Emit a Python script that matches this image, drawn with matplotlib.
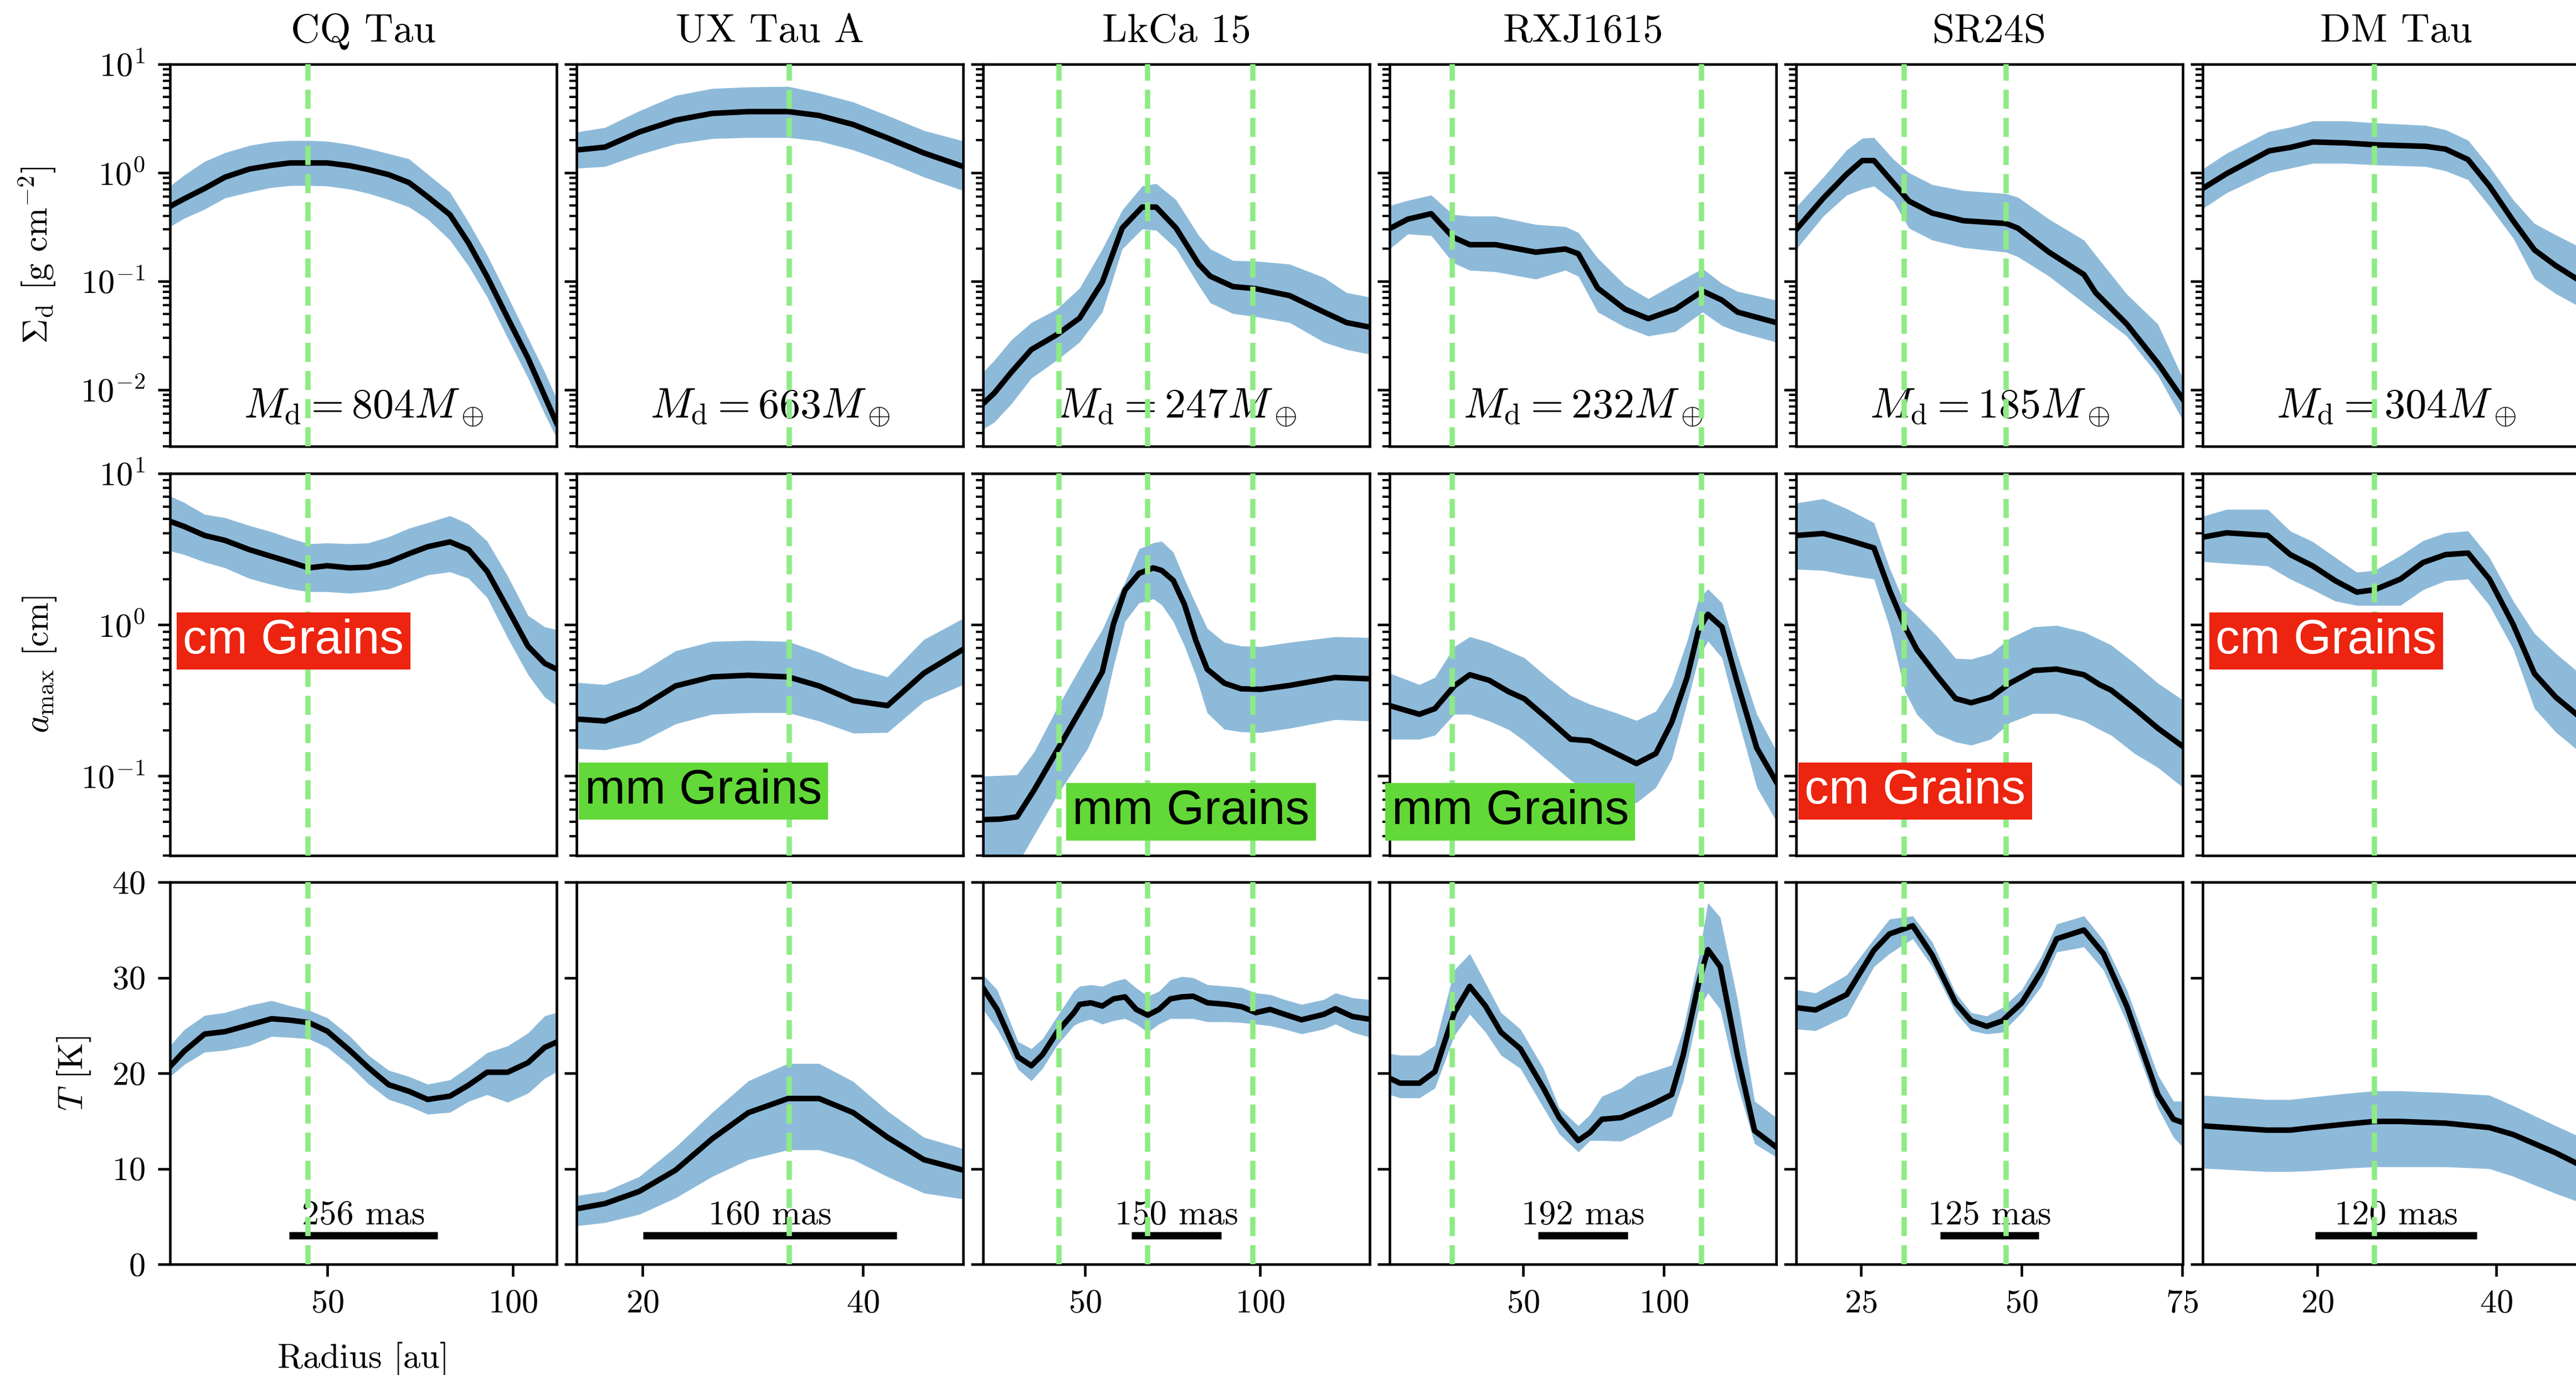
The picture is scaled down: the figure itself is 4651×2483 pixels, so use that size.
import matplotlib
matplotlib.use('Agg')
import matplotlib.pyplot as plt
from matplotlib.ticker import MultipleLocator

# %% Fonts: Computer Modern look
plt.rcParams['font.family'] = 'cmr10'
plt.rcParams['mathtext.fontset'] = 'cm'
plt.rcParams['axes.formatter.use_mathtext'] = True

# %% Disk-level info
DISKS = ['CQ Tau', 'UX Tau A', 'LkCa 15', 'RXJ1615', 'SR24S', 'DM Tau']
MDISK = [804, 663, 247, 232, 185, 304]
SCALE_MAS = ['256 mas', '160 mas', '150 mas', '192 mas', '125 mas', '120 mas']
SCALE_AU = [39.8, 23.0, 25.6, 31.8, 15.3, 18.1]
RINGS = [[44.8], [33.3], [42.5, 67.9, 98.0], [24.7, 113.5], [31.8, 47.6], [26.35]]
XLIM = [(7.7, 111.7), (14.03, 49.06), (20.8, 131.4), (2.5, 140.0), (14.96, 75.1), (7.18, 50.4)]
XSTEP = [50, 20, 50, 50, 25, 20]
GRAIN_TEXT = ['cm Grains', 'mm Grains', 'mm Grains', 'mm Grains', 'cm Grains', 'cm Grains']

# %% CQ Tau
CQ_R = [7.7, 11.5, 17, 22.5, 29, 35, 40, 45, 50, 56, 61, 66.5, 72, 77, 83, 88, 93, 98.5, 104, 108.5, 111.7]
CQ_SIG = [0.489, 0.575, 0.716, 0.91, 1.08, 1.17, 1.23, 1.23, 1.23, 1.16, 1.07, 0.96, 0.81, 0.60, 0.41,
          0.225, 0.11, 0.046, 0.0195, 0.0087, 0.0049]
CQ_SIG_LO = [0.318, 0.38, 0.46, 0.585, 0.662, 0.73, 0.76, 0.762, 0.753, 0.706, 0.646, 0.565, 0.482, 0.373,
             0.239, 0.138, 0.0713, 0.030, 0.0128, 0.00594, 0.00357]
CQ_SIG_HI = [0.753, 0.95, 1.27, 1.53, 1.78, 1.93, 1.98, 1.98, 1.95, 1.82, 1.67, 1.50, 1.34, 0.97, 0.66,
             0.35, 0.174, 0.073, 0.030, 0.0145, 0.0082]
CQ_AMAX = [4.81, 4.45, 3.88, 3.60, 3.13, 2.82, 2.59, 2.37, 2.45, 2.37, 2.40, 2.59, 2.94, 3.27, 3.52, 3.13,
           2.25, 1.28, 0.72, 0.555, 0.508]
CQ_AMAX_LO = [3.07, 2.9, 2.59, 2.37, 2.02, 1.84, 1.72, 1.65, 1.65, 1.61, 1.65, 1.72, 1.92, 2.13, 2.23, 2.02,
              1.51, 0.82, 0.467, 0.332, 0.292]
CQ_AMAX_HI = [7.06, 6.4, 5.35, 5.08, 4.51, 4.10, 3.72, 3.42, 3.46, 3.42, 3.46, 3.80, 4.33, 4.71, 5.24, 4.61,
              3.56, 2.1, 1.15, 0.966, 0.927]
CQ_T = [20.7, 22.3, 24.1, 24.35, 25.05, 25.7, 25.55, 25.3, 24.4, 22.4, 20.6, 18.8, 18.1, 17.25, 17.6, 18.75,
        20.1, 20.1, 21.1, 22.7, 23.25]
CQ_T_LO = [19.65, 20.9, 22.2, 22.4, 22.9, 23.85, 23.75, 23.6, 22.7, 20.8, 18.9, 17.25, 16.55, 15.7, 15.9,
           17.05, 17.75, 16.95, 17.9, 19.45, 20.15]
CQ_T_HI = [22.9, 24.55, 26.05, 26.35, 27.1, 27.6, 27.05, 26.6, 25.8, 23.9, 21.9, 20.3, 19.65, 18.85, 19.3,
           20.65, 22.15, 22.85, 24.2, 26.0, 26.35]

# %% UX Tau A
UX_R = [14.03, 16.6, 19.7, 23.0, 26.3, 29.6, 33.2, 36.0, 39.1, 42.2, 45.5, 49.06]
UX_SIG = [1.62, 1.72, 2.37, 3.05, 3.52, 3.66, 3.66, 3.37, 2.78, 2.09, 1.52, 1.14]
UX_SIG_LO = [1.10, 1.14, 1.47, 1.84, 2.06, 2.11, 2.11, 1.96, 1.62, 1.25, 0.912, 0.684]
UX_SIG_HI = [2.37, 2.61, 3.71, 5.15, 5.97, 6.17, 6.24, 5.43, 4.48, 3.37, 2.45, 1.96]
UX_AMAX = [0.238, 0.231, 0.280, 0.394, 0.452, 0.463, 0.452, 0.394, 0.315, 0.292, 0.478, 0.687]
UX_AMAX_LO = [0.152, 0.149, 0.166, 0.221, 0.256, 0.262, 0.262, 0.231, 0.192, 0.194, 0.311, 0.402]
UX_AMAX_HI = [0.415, 0.402, 0.478, 0.671, 0.774, 0.787, 0.774, 0.658, 0.520, 0.452, 0.798, 1.10]
UX_T = [5.80, 6.35, 7.62, 9.85, 13.12, 15.87, 17.35, 17.35, 15.87, 13.29, 10.95, 9.85]
UX_T_LO = [4.02, 4.36, 5.22, 6.94, 9.17, 10.95, 11.98, 11.98, 10.95, 9.17, 7.45, 6.83]
UX_T_HI = [7.18, 7.62, 9.17, 12.26, 15.87, 19.20, 21.02, 21.02, 19.13, 16.04, 13.29, 12.09]

# %% LkCa 15
LK_R1 = [20.8, 24.0, 28.9, 34.6, 41.9, 48.4, 54.9, 60.6, 66.3, 70.3, 76.0, 82.5, 85.8, 92.3, 98.8, 108.5,
         118.3, 124.8, 131.4]
LK_SIG = [0.00743, 0.00929, 0.0145, 0.0234, 0.0321, 0.0456, 0.098, 0.309, 0.482, 0.482, 0.309, 0.1435,
          0.111, 0.0891, 0.0853, 0.0736, 0.0519, 0.0415, 0.0377]
LK_SIG_LO = [0.00433, 0.00501, 0.00741, 0.01276, 0.0187, 0.0274, 0.0519, 0.198, 0.302, 0.295, 0.200, 0.0912,
             0.0631, 0.0502, 0.0471, 0.0415, 0.0274, 0.0234, 0.0212]
LK_SIG_HI = [0.0145, 0.0186, 0.0288, 0.0415, 0.0552, 0.0863, 0.198, 0.452, 0.753, 0.794, 0.562, 0.263,
             0.198, 0.155, 0.153, 0.1435, 0.108, 0.0783, 0.0713]
LK_R2 = [20.8, 25.7, 30.5, 35.4, 41.9, 50.8, 54.9, 58.1, 61.4, 65.4, 69.5, 71.9, 75.2, 78.4, 81.7, 84.9,
         89.8, 94.6, 100.3, 108.5, 121.5, 131.4]
LK_AMAX = [0.0516, 0.0520, 0.0538, 0.0809, 0.147, 0.332, 0.488, 1.01, 1.69, 2.18, 2.37, 2.28, 1.96, 1.36,
           0.782, 0.508, 0.411, 0.377, 0.374, 0.397, 0.448, 0.439]
LK_AMAX_LO = [0.0106, 0.0166, 0.026, 0.0407, 0.0741, 0.153, 0.251, 0.531, 1.05, 1.39, 1.48, 1.35, 1.05,
              0.724, 0.457, 0.262, 0.204, 0.196, 0.194, 0.207, 0.236, 0.231]
LK_AMAX_HI = [0.100, 0.101, 0.102, 0.1445, 0.280, 0.644, 0.927, 1.36, 1.91, 3.16, 3.47, 3.55, 3.01, 2.00,
              1.36, 0.946, 0.764, 0.723, 0.716, 0.764, 0.832, 0.822]
LK_R3 = [20.8, 24.8, 27.3, 30.8, 34.6, 37.8, 41.9, 46.8, 48.4, 51.6, 54.9, 58.1, 61.4, 64.6, 67.9, 71.1,
         74.4, 77.6, 80.9, 85.0, 90.7, 94.8, 98.8, 102.9, 107.0, 111.9, 118.3, 121.6, 126.5, 131.4]
LK_T = [28.92, 26.68, 24.62, 21.70, 20.78, 21.94, 24.28, 26.34, 27.20, 27.37, 27.03, 27.78, 27.99, 26.68,
        26.07, 26.68, 27.78, 27.99, 28.06, 27.37, 27.20, 26.96, 26.34, 26.68, 26.17, 25.59, 26.17, 26.75,
        25.93, 25.65]
LK_T_LO = [26.68, 24.62, 23.0, 20.4, 19.2, 20.5, 22.9, 25.0, 25.3, 25.65, 25.14, 25.5, 25.72, 25.14, 24.28,
           25.14, 25.72, 25.72, 25.72, 25.38, 25.38, 25.3, 25.14, 24.97, 24.62, 24.11, 24.62, 25.14, 24.28,
           23.77]
LK_T_HI = [30.3, 28.74, 26.5, 23.3, 22.56, 23.6, 25.9, 28.6, 29.1, 29.26, 29.09, 29.6, 29.9, 28.92, 28.06,
           28.57, 29.77, 30.12, 30.0, 29.26, 29.1, 28.95, 28.40, 28.23, 27.71, 27.20, 27.71, 28.40, 27.89,
           27.71]

# %% RXJ1615
RX_R1 = [2.5, 8.98, 17.3, 25.0, 31.0, 40.2, 54.5, 65.0, 69.6, 76.5, 86.2, 94.5, 104.1, 113.8, 120.7,
         126.2, 140.0]
RX_SIG = [0.305, 0.373, 0.419, 0.255, 0.217, 0.217, 0.185, 0.198, 0.179, 0.0863, 0.0552, 0.0451, 0.0552,
          0.0811, 0.0668, 0.0519, 0.0415]
RX_SIG_LO = [0.198, 0.272, 0.263, 0.148, 0.126, 0.122, 0.1045, 0.126, 0.111, 0.0519, 0.0377, 0.0312,
             0.0343, 0.0519, 0.0389, 0.0343, 0.0274]
RX_SIG_HI = [0.498, 0.555, 0.622, 0.411, 0.398, 0.398, 0.333, 0.318, 0.281, 0.163, 0.0920, 0.0690, 0.0951,
             0.1306, 0.0951, 0.0805, 0.0668]
RX_R2 = [2.5, 13.1, 18.6, 25.5, 31.0, 37.9, 44.8, 50.4, 58.6, 66.9, 73.8, 82.1, 90.3, 97.2, 102.8, 108.3,
         112.4, 115.7, 120.7, 126.2, 133.1, 140.0]
RX_AMAX = [0.292, 0.256, 0.279, 0.394, 0.467, 0.429, 0.361, 0.324, 0.240, 0.175, 0.171, 0.144, 0.121,
           0.141, 0.226, 0.448, 0.927, 1.17, 0.966, 0.411, 0.153, 0.0918]
RX_AMAX_LO = [0.175, 0.175, 0.186, 0.256, 0.256, 0.231, 0.203, 0.171, 0.127, 0.094, 0.0774, 0.0653,
              0.0667, 0.0843, 0.129, 0.305, 0.604, 0.780, 0.604, 0.246, 0.0843, 0.0505]
RX_AMAX_HI = [0.478, 0.402, 0.448, 0.716, 0.832, 0.764, 0.671, 0.604, 0.448, 0.339, 0.298, 0.265, 0.233,
              0.268, 0.394, 0.780, 1.48, 1.72, 1.39, 0.630, 0.256, 0.147]
RX_R3 = [2.5, 6.2, 13.1, 18.6, 25.5, 31.0, 36.6, 42.1, 49.0, 57.2, 62.8, 69.6, 73.8, 78.0, 84.8, 90.3, 95.8,
         102.8, 106.9, 112.4, 115.7, 120.1, 126.2, 132.3, 140.0]
RX_T = [19.47, 18.96, 18.96, 20.16, 26.34, 29.09, 27.03, 24.28, 22.56, 18.44, 15.35, 12.95, 13.81, 15.18,
        15.35, 16.04, 16.73, 17.76, 21.88, 29.43, 32.93, 31.15, 21.88, 13.98, 12.26]
RX_T_LO = [17.76, 17.41, 17.41, 18.44, 23.94, 26.17, 24.28, 21.88, 20.50, 16.38, 13.64, 11.75, 12.95, 12.95,
           12.88, 13.64, 14.49, 15.52, 19.13, 26.68, 28.40, 26.68, 18.79, 12.61, 11.23]
RX_T_HI = [22.05, 21.88, 21.88, 22.91, 30.80, 32.52, 29.43, 26.34, 24.62, 20.50, 16.38, 14.49, 15.69, 17.58,
           18.44, 19.64, 20.16, 20.85, 24.62, 32.18, 37.84, 36.30, 27.71, 17.07, 15.35]

# %% SR24S
SR_R1 = [14.96, 19.19, 22.82, 25.24, 27.06, 30.09, 32.5, 36.13, 40.97, 47.63, 49.45, 54.29, 59.73, 61.54,
         66.39, 71.22, 75.1]
SR_SIG = [0.299, 0.583, 0.970, 1.294, 1.294, 0.802, 0.547, 0.424, 0.361, 0.340, 0.308, 0.185, 0.115,
          0.0783, 0.0402, 0.01754, 0.00817]
SR_SIG_LO = [0.197, 0.398, 0.621, 0.706, 0.752, 0.547, 0.308, 0.239, 0.204, 0.185, 0.168, 0.111, 0.0627,
             0.0518, 0.0311, 0.01358, 0.00522]
SR_SIG_HI = [0.482, 0.910, 1.62, 2.08, 2.11, 1.33, 1.00, 0.776, 0.684, 0.641, 0.594, 0.373, 0.239, 0.174,
             0.0759, 0.0402, 0.01276]
SR_R2 = [14.96, 19.19, 22.82, 27.06, 29.48, 31.9, 33.72, 36.74, 39.77, 42.19, 45.22, 48.24, 51.87, 55.49,
         59.73, 62.15, 63.97, 67.6, 71.22, 75.1]
SR_AMAX = [3.88, 4.00, 3.64, 3.21, 1.69, 0.966, 0.687, 0.467, 0.325, 0.305, 0.332, 0.411, 0.498, 0.509,
           0.467, 0.402, 0.369, 0.279, 0.207, 0.157]
SR_AMAX_LO = [2.32, 2.28, 2.13, 2.00, 0.966, 0.361, 0.256, 0.190, 0.168, 0.160, 0.175, 0.226, 0.259, 0.259,
              0.231, 0.203, 0.186, 0.141, 0.114, 0.0843]
SR_AMAX_HI = [6.35, 6.78, 5.83, 4.71, 2.37, 1.36, 1.15, 0.851, 0.598, 0.592, 0.644, 0.815, 0.966, 0.988,
              0.895, 0.798, 0.733, 0.555, 0.411, 0.318]
SR_R3 = [14.96, 17.98, 22.82, 27.06, 29.48, 33.1, 36.13, 39.77, 42.19, 44.6, 47.03, 50.05, 53.08, 55.49,
         59.73, 62.76, 66.39, 71.22, 73.65, 75.1]
SR_T = [26.86, 26.62, 28.23, 32.87, 34.58, 35.44, 32.35, 27.37, 25.48, 24.90, 25.48, 27.37, 30.63, 34.07,
        34.99, 32.52, 27.03, 17.76, 15.18, 14.84]
SR_T_LO = [24.62, 24.45, 25.99, 31.15, 32.52, 34.07, 31.15, 26.34, 24.45, 24.11, 24.28, 26.34, 29.09, 32.69,
           33.21, 30.80, 25.31, 16.38, 13.29, 12.26]
SR_T_HI = [28.74, 28.40, 30.29, 34.07, 36.13, 36.47, 33.72, 28.40, 26.34, 25.99, 26.86, 28.74, 32.18, 35.61,
           36.47, 33.90, 28.74, 19.82, 17.07, 17.07]

# %% DM Tau (panel runs past the right edge of the figure)
DM_R1 = [7.18, 9.85, 14.6, 16.97, 19.49, 23.2, 26.4, 32.1, 34.33, 36.85, 39.23, 41.9, 44.27, 46.65, 49.0]
DM_SIG = [0.715, 0.980, 1.59, 1.71, 1.92, 1.88, 1.81, 1.75, 1.65, 1.32, 0.755, 0.359, 0.194, 0.139, 0.105]
DM_SIG_LO = [0.466, 0.652, 1.00, 1.10, 1.22, 1.22, 1.18, 1.14, 1.04, 0.861, 0.492, 0.248, 0.105, 0.0766,
             0.0601]
DM_SIG_HI = [1.08, 1.51, 2.40, 2.63, 3.00, 3.00, 2.88, 2.73, 2.49, 1.99, 1.14, 0.561, 0.340, 0.267, 0.213]
DM_R2 = [7.18, 9.85, 14.45, 16.97, 19.49, 22.0, 24.4, 26.4, 29.29, 31.81, 34.33, 36.85, 39.23, 41.9, 44.27,
         46.65, 49.0]
DM_AMAX = [3.78, 4.04, 3.88, 2.90, 2.44, 1.95, 1.64, 1.70, 2.00, 2.57, 2.90, 2.97, 2.00, 1.00, 0.475, 0.332,
           0.255]
DM_AMAX_LO = [2.61, 2.54, 2.44, 2.00, 1.70, 1.43, 1.34, 1.34, 1.34, 1.70, 1.95, 2.00, 1.34, 0.690, 0.280,
              0.195, 0.150]
DM_AMAX_HI = [5.19, 5.77, 5.77, 4.15, 3.53, 2.78, 2.22, 2.28, 2.86, 3.58, 4.04, 4.15, 2.78, 1.43, 0.875,
              0.646, 0.494]
DM_R3 = [7.18, 14.3, 16.97, 19.49, 23.2, 26.4, 29.29, 34.33, 39.23, 41.9, 46.65, 49.0]
DM_T = [14.49, 14.04, 14.04, 14.31, 14.67, 14.95, 14.95, 14.77, 14.31, 13.58, 11.66, 10.56]
DM_T_LO = [10.05, 9.7, 9.7, 9.8, 10.05, 10.2, 10.2, 10.2, 10.0, 9.2, 7.4, 6.6]
DM_T_HI = [17.69, 17.24, 17.24, 17.51, 17.88, 18.15, 18.15, 17.96, 17.69, 16.59, 14.49, 13.49]

# %% Gather per row
SIG_ROWS = [(CQ_R, CQ_SIG, CQ_SIG_LO, CQ_SIG_HI), (UX_R, UX_SIG, UX_SIG_LO, UX_SIG_HI),
            (LK_R1, LK_SIG, LK_SIG_LO, LK_SIG_HI), (RX_R1, RX_SIG, RX_SIG_LO, RX_SIG_HI),
            (SR_R1, SR_SIG, SR_SIG_LO, SR_SIG_HI), (DM_R1, DM_SIG, DM_SIG_LO, DM_SIG_HI)]
AMAX_ROWS = [(CQ_R, CQ_AMAX, CQ_AMAX_LO, CQ_AMAX_HI), (UX_R, UX_AMAX, UX_AMAX_LO, UX_AMAX_HI),
             (LK_R2, LK_AMAX, LK_AMAX_LO, LK_AMAX_HI), (RX_R2, RX_AMAX, RX_AMAX_LO, RX_AMAX_HI),
             (SR_R2, SR_AMAX, SR_AMAX_LO, SR_AMAX_HI), (DM_R2, DM_AMAX, DM_AMAX_LO, DM_AMAX_HI)]
T_ROWS = [(CQ_R, CQ_T, CQ_T_LO, CQ_T_HI), (UX_R, UX_T, UX_T_LO, UX_T_HI),
          (LK_R3, LK_T, LK_T_LO, LK_T_HI), (RX_R3, RX_T, RX_T_LO, RX_T_HI),
          (SR_R3, SR_T, SR_T_LO, SR_T_HI), (DM_R3, DM_T, DM_T_LO, DM_T_HI)]
ROWS = [SIG_ROWS, AMAX_ROWS, T_ROWS]
YLABELS = [r'$\Sigma_{\rm d}$ [g cm$^{-2}$]', r'$a_{\rm max}$ [cm]', r'$T$ [K]']
YLIMS = [(3.0e-3, 10), (3.0e-2, 10), (0, 40)]

# %% Layout (pixels of the 4651x2483 canvas)
W, H = 4651, 2483
COL_LEFT, COL_STEP, AX_W = 307, 734, 698
ROW_TOP, ROW_STEP, AX_H = 116, 738.5, 690
RING_COLOR = '#8EEB84'
GRAIN_STYLE = {
    'cm Grains': dict(color='white', box='#EC2410'),
    'mm Grains': dict(color='black', box='#62D938'),
}
GRAIN_POS = [(0.319, 0.561), (0.328, 0.168), (0.538, 0.114), (0.312, 0.114), (0.308, 0.168), (0.319, 0.561)]

fig = plt.figure(figsize=(W / 300, H / 300), dpi=300)

for i, name in enumerate(DISKS):
    for j in range(3):
        left = (COL_LEFT + i * COL_STEP) / W
        bottom = 1 - (ROW_TOP + j * ROW_STEP + AX_H) / H
        ax = fig.add_axes([left, bottom, AX_W / W, AX_H / H])
        r, mid, lo, hi = ROWS[j][i]
        ax.fill_between(r, lo, hi, color='C0', alpha=0.5, lw=0, zorder=1)
        ax.plot(r, mid, color='k', lw=2.4, zorder=2)
        if j < 2:
            ax.set_yscale('log')
        ax.set_xlim(*XLIM[i])
        ax.set_ylim(*YLIMS[j])

        for s in ax.spines.values():
            s.set_linewidth(1.1)
        ax.tick_params(which='major', length=5.3, width=1.1, labelsize=14.5, pad=5.5)
        ax.tick_params(which='minor', length=3.2, width=1.0)
        ax.xaxis.set_major_locator(MultipleLocator(XSTEP[i]))
        if j < 2:
            ax.tick_params(axis='x', which='both', bottom=False, labelbottom=False)
        if i > 0:
            ax.tick_params(axis='y', which='both', labelleft=False)
        else:
            ax.set_ylabel(YLABELS[j], fontsize=15)
            ax.yaxis.set_label_coords(-0.29 if j < 2 else -0.2, 0.5)

        if j == 0:
            ax.set_title(name, fontsize=17.4, pad=9.6)
            ax.text(0.5, 0.075, rf'$M_{{\rm d}}={MDISK[i]}M_\oplus$', transform=ax.transAxes,
                    ha='center', va='baseline', fontsize=18.3, zorder=4)
        if j == 1:
            st = GRAIN_STYLE[GRAIN_TEXT[i]]
            gx, gy = GRAIN_POS[i]
            ax.text(gx, gy, GRAIN_TEXT[i], transform=ax.transAxes, ha='center', va='center',
                    fontsize=21, family='Liberation Sans', color=st['color'], zorder=10, clip_on=False,
                    bbox=dict(boxstyle='square,pad=0.13', fc=st['box'], ec='none'))
        if j == 2:
            c = 0.5 * (XLIM[i][0] + XLIM[i][1])
            half = 0.5 * SCALE_AU[i]
            ax.plot([c - half, c + half], [3.0, 3.0], color='k', lw=3.2, solid_capstyle='butt', zorder=3)
            ax.text(c, 4.2, SCALE_MAS[i], ha='center', va='baseline', fontsize=15, zorder=3)
            if i == 0:
                ax.set_xlabel('Radius [au]', fontsize=15, labelpad=10)

        for rr in RINGS[i]:
            ax.axvline(rr, color=RING_COLOR, lw=2.3, ls=(0, (3.6, 1.7)), zorder=5)

fig.savefig('out.png', dpi=300)
